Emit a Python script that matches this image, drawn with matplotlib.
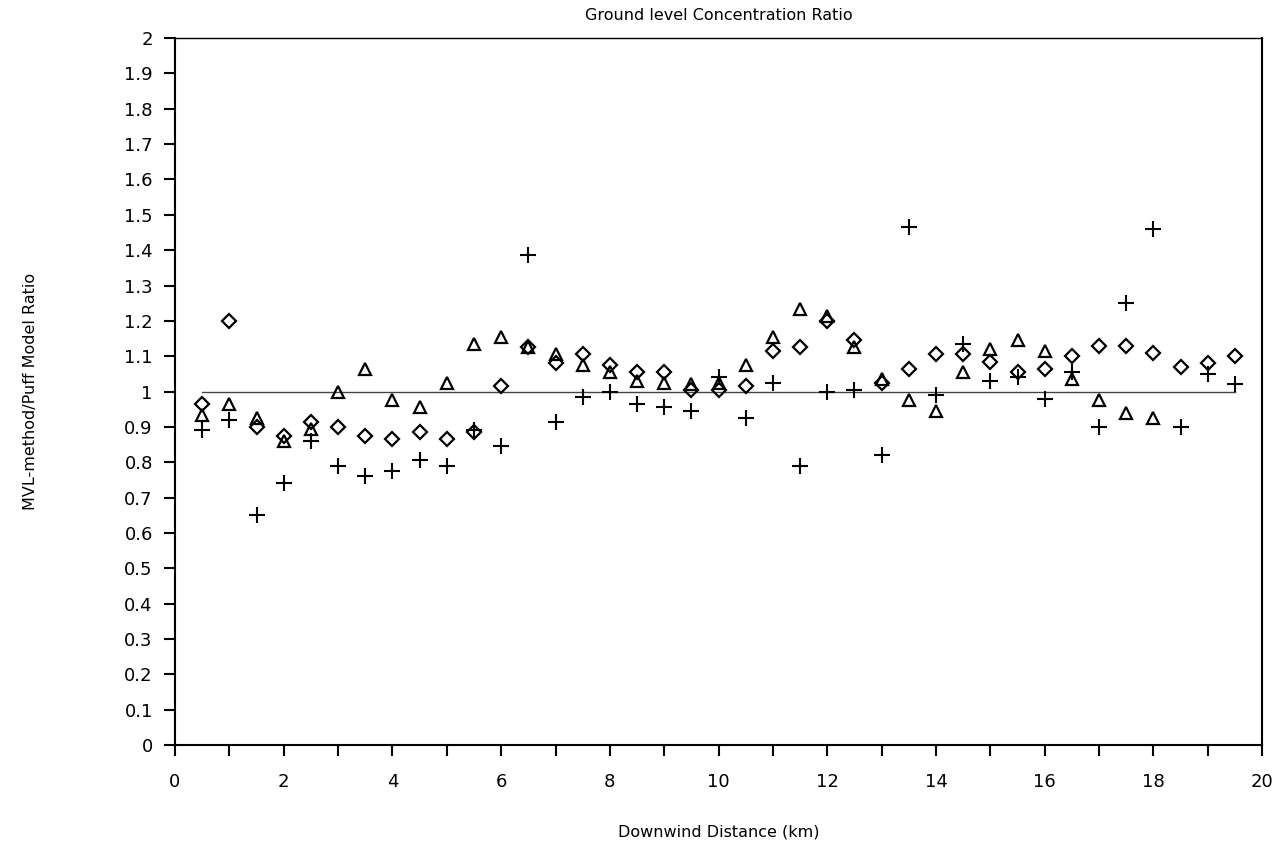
import matplotlib.pyplot as plt
import numpy as np

dist = np.arange(0.5, 20.0, 0.5)

diamond = [0.965, 1.20, 0.90, 0.875, 0.915, 0.90, 0.875, 0.865, 0.885, 0.865,
           0.885, 1.015, 1.125, 1.08, 1.105, 1.075, 1.055, 1.055, 1.005, 1.005,
           1.015, 1.115, 1.125, 1.20, 1.145, 1.025, 1.065, 1.105, 1.105, 1.085,
           1.055, 1.065, 1.10, 1.13, 1.13, 1.11, 1.07, 1.08, 1.10]
triangle = [0.935, 0.965, 0.925, 0.86, 0.895, 1.0, 1.065, 0.975, 0.955, 1.025,
            1.135, 1.155, 1.125, 1.105, 1.075, 1.055, 1.03, 1.025, 1.02, 1.025,
            1.075, 1.155, 1.235, 1.215, 1.125, 1.035, 0.975, 0.945, 1.055, 1.12,
            1.145, 1.115, 1.035, 0.975, 0.94, 0.925]
plus = [0.89, 0.92, 0.65, 0.74, 0.86, 0.79, 0.76, 0.775, 0.805, 0.79,
        0.89, 0.845, 1.385, 0.915, 0.985, 1.0, 0.965, 0.955, 0.945, 1.04,
        0.925, 1.025, 0.79, 1.0, 1.005, 0.82, 1.465, 0.99, 1.135, 1.03,
        1.04, 0.98, 1.055, 0.9, 1.25, 1.46, 0.9, 1.05, 1.02]

plt.rcParams['font.family'] = ['DejaVu Sans']
fig = plt.figure(figsize=(12.8, 8.47), dpi=100)
ax = fig.add_axes([0.1367, 0.1204, 0.8494, 0.8346])

ax.plot([0.5, 19.5], [1, 1], color='#444444', lw=1.0)
ax.plot(dist, diamond, 'D', ms=7, mfc='none', mec='black', mew=1.6)
ax.plot(dist[:len(triangle)], triangle, '^', ms=9, mfc='none', mec='black', mew=1.6)
ax.plot(dist, plus, '+', ms=11, color='black', mew=1.5)

ax.set_xlim(0, 20)
ax.set_ylim(0, 2)
ax.set_xticks(np.arange(0, 21, 1))
ax.set_xticklabels([str(i) if i % 2 == 0 else '' for i in range(21)])
ax.set_yticks(np.arange(0, 2.01, 0.1))
ax.set_yticklabels(['0', '0.1', '0.2', '0.3', '0.4', '0.5', '0.6', '0.7', '0.8', '0.9',
                    '1', '1.1', '1.2', '1.3', '1.4', '1.5', '1.6', '1.7', '1.8', '1.9', '2'])
ax.tick_params(direction='out', length=8, width=1.5, labelsize=13)
ax.tick_params(axis='x', pad=12)
ax.tick_params(axis='y', pad=8)
for s in ax.spines.values():
    s.set_linewidth(1.5)
ax.spines['top'].set_linewidth(1.0)

ax.set_title('Ground level Concentration Ratio', fontsize=11.5, pad=13)
ax.set_xlabel('Downwind Distance (km)', fontsize=11.5, labelpad=24)
ax.set_ylabel('MVL-method/Puff Model Ratio', fontsize=11.5, labelpad=62)

plt.savefig('out.png', dpi=100)
